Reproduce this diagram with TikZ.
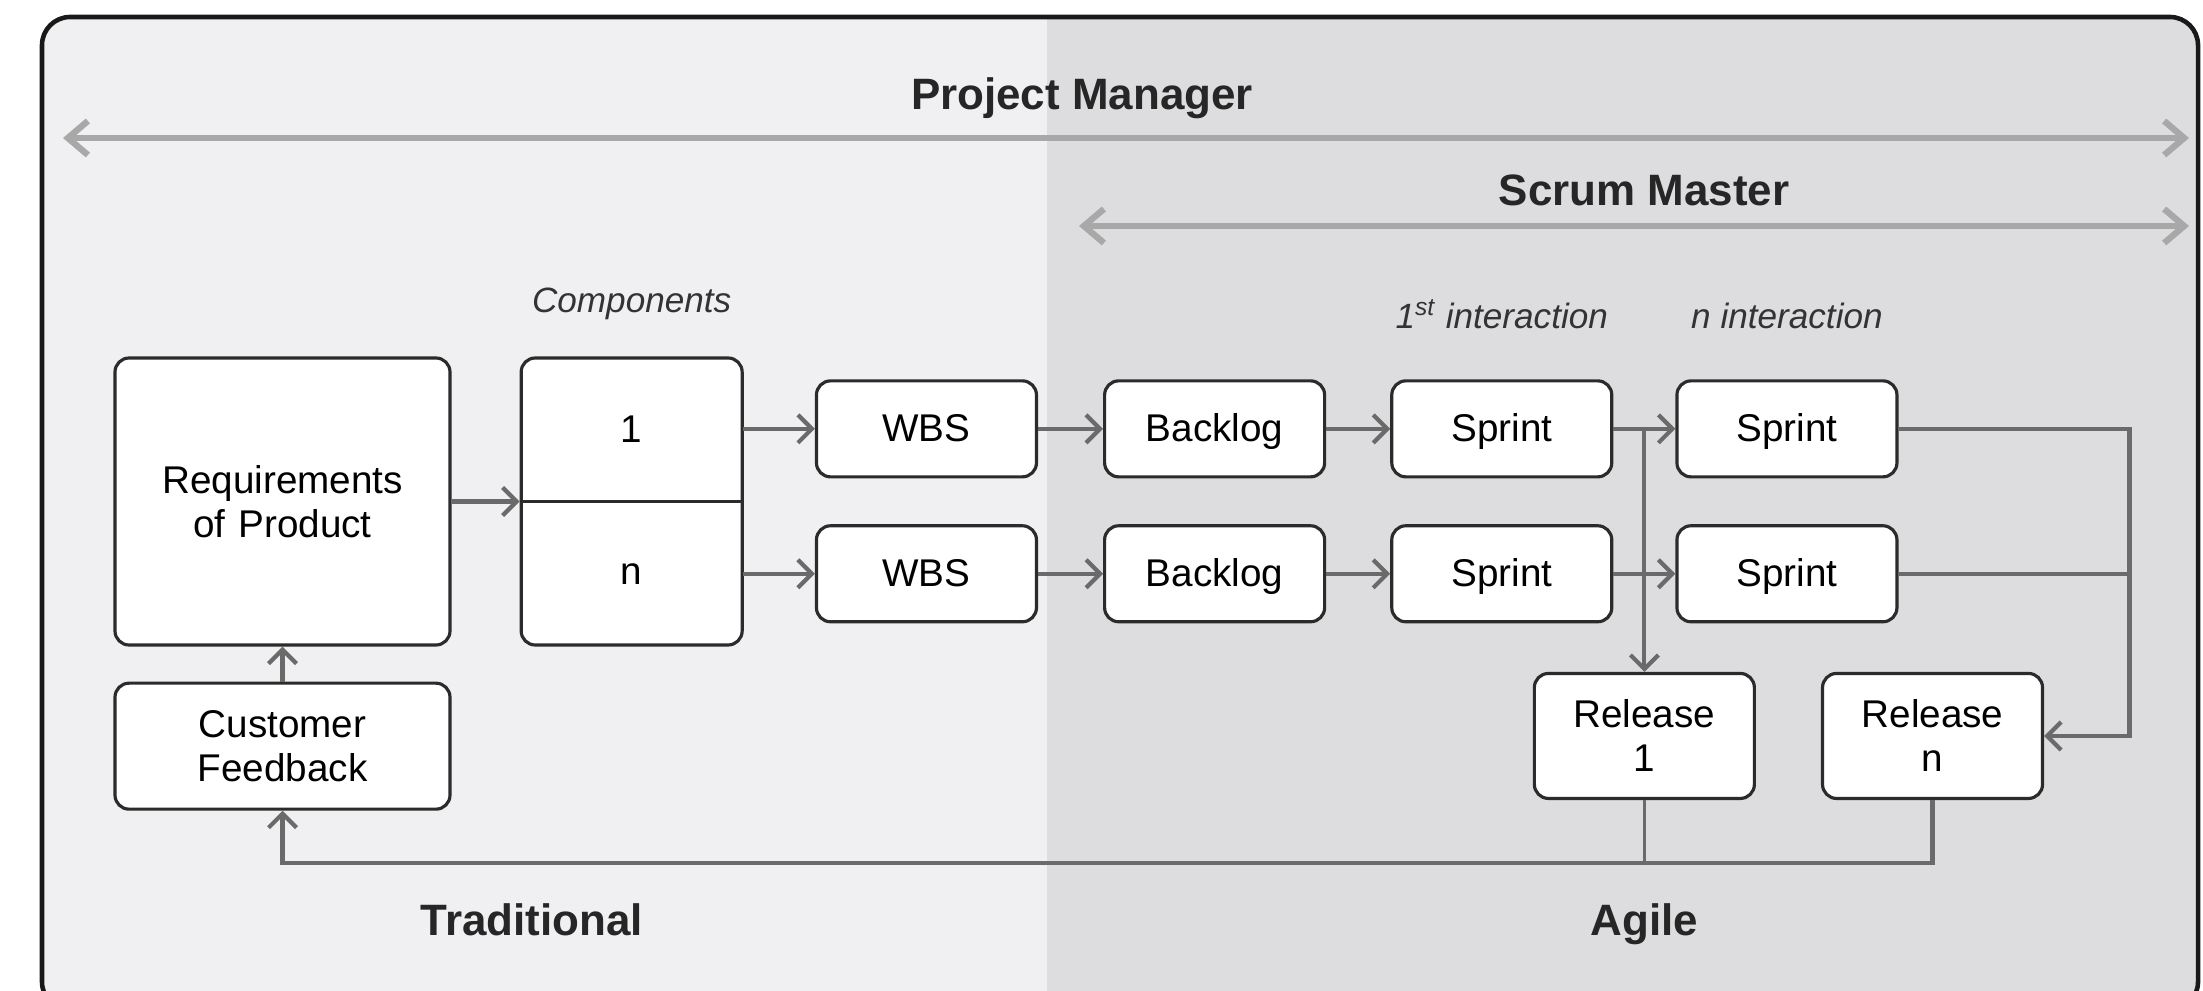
\documentclass[tikz,border=0pt]{standalone}
\usepackage{fontspec}
\setmainfont{Liberation Sans}
\usetikzlibrary{arrows.meta,positioning}
\definecolor{tradgray}{HTML}{F0F0F2}
\definecolor{agilegray}{HTML}{DDDDE0}
\definecolor{linegray}{HTML}{6A6A6A}
\definecolor{rolegray}{HTML}{A8A8A8}
\definecolor{boxborder}{HTML}{2B2B2B}

\begin{document}
\begin{tikzpicture}[auto,
    block_box/.style ={rectangle, rounded corners=4pt, draw=boxborder, line width=0.9pt, fill=white,
      font=\fontsize{11}{12.5}\selectfont, text width=2.0cm, align=center,
      minimum width=2.2cm, minimum height=0.96cm, inner sep=2pt},
    block_row/.style ={block_box, text height=1.7ex, text depth=0.3ex},
    block_tall/.style ={block_box, minimum width=3.35cm, text width=3cm},
    block_half/.style ={rectangle, draw=none, font=\fontsize{11}{12.5}\selectfont,
      minimum width=2.21cm, minimum height=1.435cm, inner sep=0pt},
    block_role/.style ={font=\fontsize{12.5}{14}\selectfont\bfseries, text=black!85, inner sep=0pt},
    block_note/.style ={font=\fontsize{10}{12}\selectfont\itshape, text=black!80, inner sep=0pt},
    line/.style ={draw=linegray, line width=1.2pt, -{Straight Barb[length=1.4mm, width=2.8mm]}},
    role_line/.style ={draw=rolegray, line width=1.8pt,
      {Straight Barb[length=2mm, width=3.4mm]}-{Straight Barb[length=2mm, width=3.4mm]}}]
    \useasboundingbox (0,0) rectangle (22.03,9.90);
    % background
    \begin{scope}
      \clip [rounded corners=8pt] (0.42,-0.2) rectangle (21.98,9.73);
      \fill [tradgray] (0.42,-0.2) rectangle (10.47,9.73);
      \fill [agilegray] (10.47,-0.2) rectangle (21.98,9.73);
    \end{scope}
    \draw [line width=1.3pt, draw=black!90, rounded corners=8pt] (0.42,-0.2) rectangle (21.98,9.73);
    % roles
    \node [block_role] (pm) at (10.82,8.92) {Project Manager};
    \coordinate (pm_left) at (0.63,8.52);
    \coordinate (pm_right) at (21.89,8.52);
    \node [block_role] (sm) at (16.44,8.00) {Scrum Master};
    \coordinate (sm_left) at (10.79,7.64);
    \coordinate (sm_right) at (21.89,7.64);
    % row
    \node [block_tall, minimum height=2.87cm] (req) at (2.825,4.885) {Requirements\\ of Product};
    \node [block_box, minimum width=2.21cm, minimum height=2.87cm] (comp) [right=0.68cm of req] {};
    \node [block_half] (comp_one) [below=0pt of comp.north] {1};
    \node [block_half] (comp_n) [below=0pt of comp_one] {n};
    \draw [draw=boxborder, line width=0.9pt] (comp.west) -- (comp.east);
    \node [block_note] (components) [above=0.36cm of comp] {Components};
    % row 1
    \node [block_row] (wbs_one) [right=0.72cm of comp_one] {WBS};
    \node [block_row] (backlog_one) [right=0.65cm of wbs_one] {Backlog};
    \node [block_row] (sprint_one_first) [right=0.64cm of backlog_one] {Sprint};
    \node [block_row] (sprint_one_last) [right=0.62cm of sprint_one_first] {Sprint};
    \node [block_note] (first_iter) [above=0.5cm of sprint_one_first] {1\textsuperscript{st} interaction};
    \node [block_note] (last_iter) [above=0.5cm of sprint_one_last] {n interaction};
    % row 2
    \node [block_row] (wbs_n) [right=0.72cm of comp_n] {WBS};
    \node [block_row] (backlog_n) [right=0.65cm of wbs_n] {Backlog};
    \node [block_row] (sprint_n_first) [right=0.64cm of backlog_n] {Sprint};
    \node [block_row] (sprint_n_last) [right=0.62cm of sprint_n_first] {Sprint};
    % row 3
    \node [block_tall, minimum height=1.26cm] (feedback) [below=0.35cm of req] {Customer\\ Feedback};
    \coordinate [right=0.31cm of sprint_one_first.east] (split);
    \node [block_box, minimum height=1.25cm] (release_one) [below=2.43cm of split] {Release\\ 1};
    \node [block_box, minimum height=1.25cm] (release_n) [right=0.65cm of release_one] {Release\\ n};
    \coordinate [right=2.31cm of sprint_one_last.east] (join);
    \coordinate [below=0.52cm of feedback.south] (fb_corner);
    % row
    \node [block_role, anchor=base] (traditional) at (5.32,0.55) {Traditional};
    \node [block_role, anchor=base] (agile) at (release_one |- traditional.base) {Agile};
    % connecting nodes with paths
    \draw [role_line] (pm_left) -- (pm_right);
    \draw [role_line] (sm_left) -- (sm_right);
    \begin{scope}[every path/.style=line]
      \path (req) -- (comp);
      \path (comp_one) -- (wbs_one);
      \path (comp_n) -- (wbs_n);
      \path (wbs_one) -- (backlog_one);
      \path (wbs_n) -- (backlog_n);
      \path (backlog_one) -- (sprint_one_first);
      \path (backlog_n) -- (sprint_n_first);
      \path (sprint_one_first) -- (sprint_one_last);
      \path (sprint_n_first) -- (sprint_n_last);
      \path (split) -- (release_one);
      \path (sprint_one_last) -- (join) |- (release_n.east);
      \path [-] (sprint_n_last) -- (join |- sprint_n_last);
      \path [-, line width=0.8pt] (release_one) -- (release_one |- fb_corner);
      \path (release_n.south) |- (fb_corner) -- (feedback.south);
      \path (feedback) -- (req);
    \end{scope}
  \end{tikzpicture}
\end{document}
